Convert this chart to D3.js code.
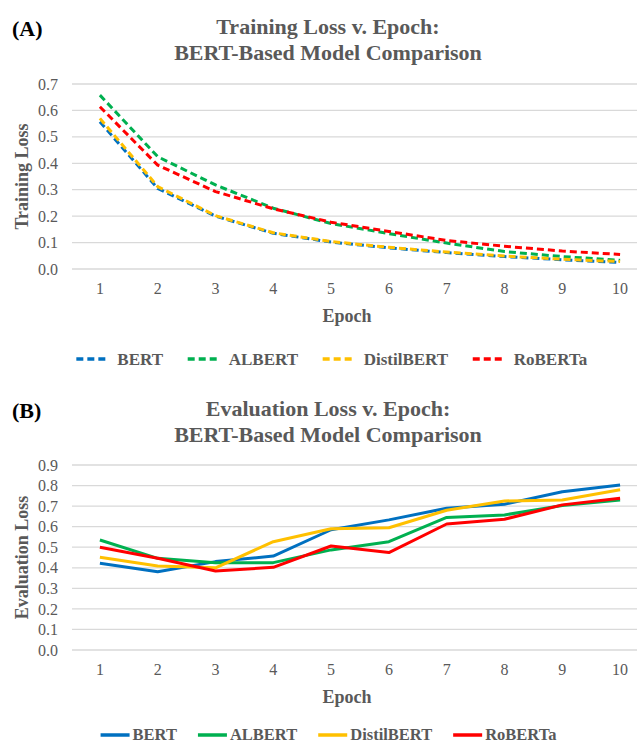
<!DOCTYPE html>
<html>
<head>
<meta charset="utf-8">
<script src="https://cdn.jsdelivr.net/npm/d3@7"></script>
<style>
  body { margin: 0; background: #fff; }
  text { font-family: "Liberation Serif", "Times New Roman", serif; fill: #595959; }
  .panel-tag { fill: #000; font-weight: bold; font-size: 22px; }
  .chart-title { font-weight: bold; font-size: 22px; }
  .axis-label { font-weight: bold; font-size: 18px; }
  .tick-label { font-size: 16px; }
  .legend-label { font-weight: bold; font-size: 17px; }
</style>
</head>
<body>
<div id="chart"></div>
<script>
const EPOCHS = [1, 2, 3, 4, 5, 6, 7, 8, 9, 10];
const MODELS = ["BERT", "ALBERT", "DistilBERT", "RoBERTa"];
const COLORS = ["#0070c0", "#00b050", "#ffc000", "#ff0000"];

// Training loss per epoch
const trainBERT = [0.557, 0.305, 0.200, 0.135, 0.102, 0.080, 0.062, 0.047, 0.035, 0.025];
const trainALBERT = [0.658, 0.425, 0.318, 0.230, 0.172, 0.134, 0.098, 0.066, 0.047, 0.033];
const trainDistilBERT = [0.570, 0.312, 0.202, 0.137, 0.104, 0.082, 0.064, 0.049, 0.037, 0.028];
const trainRoBERTa = [0.614, 0.393, 0.293, 0.228, 0.177, 0.142, 0.108, 0.086, 0.068, 0.055];

// Evaluation loss per epoch
const evalBERT = [0.422, 0.381, 0.430, 0.457, 0.585, 0.633, 0.690, 0.709, 0.770, 0.803];
const evalALBERT = [0.535, 0.446, 0.425, 0.425, 0.487, 0.527, 0.645, 0.657, 0.703, 0.730];
const evalDistilBERT = [0.451, 0.409, 0.400, 0.527, 0.590, 0.595, 0.680, 0.725, 0.730, 0.780];
const evalRoBERTa = [0.500, 0.446, 0.384, 0.402, 0.506, 0.474, 0.613, 0.636, 0.706, 0.738];

const TRAIN_TICKS = [0, 0.1, 0.2, 0.3, 0.4, 0.5, 0.6, 0.7];
const EVAL_TICKS = [0, 0.1, 0.2, 0.3, 0.4, 0.5, 0.6, 0.7, 0.8, 0.9];

const WIDTH = 639;
const HEIGHT = 745;

function LossPanel(opts) {
    const TOP = opts.top;        // pixel y of highest gridline
    const BOTTOM = opts.bottom;  // pixel y of zero line
    const LEFT = 72;
    const RIGHT = 637;

    const xScale = d3.scaleBand()
        .domain(EPOCHS)
        .range([71, 649]);
    const yScale = d3.scaleLinear()
        .domain([0, d3.max(opts.ticks)])
        .range([BOTTOM, TOP]);
    const cx = d => xScale(d) + xScale.bandwidth() / 2;

    this.draw = function(svg) {
        const g = svg.append("g");

        // Panel tag
        g.append("text")
            .attr("class", "panel-tag")
            .attr("x", 12)
            .attr("y", opts.tagY)
            .text(opts.tag);

        // Two-line title
        g.append("text")
            .attr("class", "chart-title")
            .attr("x", 328)
            .attr("y", opts.titleY)
            .attr("text-anchor", "middle")
            .selectAll("tspan")
            .data(opts.title)
            .join("tspan")
            .attr("x", 328)
            .attr("dy", (d, i) => i === 0 ? 0 : 26)
            .text(d => d);

        // Horizontal grid lines
        g.append("g")
            .selectAll("line")
            .data(opts.ticks)
            .join("line")
            .attr("x1", LEFT)
            .attr("x2", RIGHT)
            .attr("y1", d => yScale(d))
            .attr("y2", d => yScale(d))
            .style("stroke", "#d9d9d9")
            .style("stroke-width", 1.3);

        // Y-axis tick labels
        const yAxis = d3.axisLeft(yScale)
            .tickValues(opts.ticks)
            .tickFormat(d3.format(".1f"))
            .tickSize(0)
            .tickPadding(0);
        g.append("g")
            .attr("transform", `translate(58,0)`)
            .call(yAxis)
            .call(a => a.select(".domain").remove())
            .call(a => a.selectAll("text")
                .attr("class", "tick-label")
                .attr("font-family", null)
                .attr("font-size", null)
                .attr("fill", null));

        // X-axis tick labels
        const xAxis = d3.axisBottom(xScale).tickSize(0).tickPadding(0);
        g.append("g")
            .attr("transform", `translate(0,${BOTTOM + 14})`)
            .call(xAxis)
            .call(a => a.select(".domain").remove())
            .call(a => a.selectAll("text")
                .attr("class", "tick-label")
                .attr("font-family", null)
                .attr("font-size", null)
                .attr("fill", null));

        // Axis titles
        g.append("text")
            .attr("class", "axis-label")
            .attr("x", 347)
            .attr("y", BOTTOM + 53)
            .attr("text-anchor", "middle")
            .text("Epoch");
        g.append("text")
            .attr("class", "axis-label")
            .attr("transform", "rotate(-90)")
            .attr("x", -(TOP + BOTTOM) / 2)
            .attr("y", 28)
            .attr("text-anchor", "middle")
            .text(opts.yLabel);

        // Lines
        const line = d3.line()
            .x((d, i) => cx(EPOCHS[i]))
            .y(d => yScale(d));
        opts.series.forEach(function(values, i) {
            g.append("path")
                .datum(values)
                .attr("d", line)
                .style("fill", "none")
                .style("stroke", COLORS[i])
                .style("stroke-width", 3)
                .style("stroke-linejoin", "round")
                .style("stroke-dasharray", opts.dashed ? "7,4" : null);
        });

        // Legend, centred
        const lg = g.append("g");
        const items = lg.selectAll("g")
            .data(MODELS)
            .join("g");
        items.append("line")
            .attr("x1", 0)
            .attr("x2", opts.legendLine)
            .attr("y1", 0)
            .attr("y2", 0)
            .style("stroke", (d, i) => COLORS[i])
            .style("stroke-width", 3.5)
            .style("stroke-dasharray", opts.dashed ? "7,4" : null);
        items.append("text")
            .attr("class", "legend-label")
            .attr("x", opts.legendLine + opts.legendGap)
            .attr("y", opts.legendBase)
            .style("font-size", opts.legendFont + "px")
            .text(d => d);
        let xPos = 0;
        items.each(function() {
            const w = this.getBBox().width;
            d3.select(this).attr("transform", `translate(${xPos},0)`);
            xPos += w + opts.legendSpacing;
        });
        const total = xPos - opts.legendSpacing;
        lg.attr("transform", `translate(${opts.legendCenter - total / 2},${opts.legendY})`);
    };
}

const svg = d3.select("#chart").append("svg")
    .attr("width", WIDTH)
    .attr("height", HEIGHT)
    .attr("viewBox", [0, 0, WIDTH, HEIGHT]);

new LossPanel({
    tag: "(A)", tagY: 36,
    title: ["Training Loss v. Epoch:", "BERT-Based Model Comparison"], titleY: 34,
    top: 84, bottom: 269,
    ticks: TRAIN_TICKS,
    yLabel: "Training Loss",
    series: [trainBERT, trainALBERT, trainDistilBERT, trainRoBERTa],
    dashed: true,
    legendY: 359, legendBase: 6, legendCenter: 332, legendLine: 33, legendGap: 8, legendSpacing: 24, legendFont: 17
}).draw(svg);

new LossPanel({
    tag: "(B)", tagY: 418,
    title: ["Evaluation Loss v. Epoch:", "BERT-Based Model Comparison"], titleY: 416,
    top: 465, bottom: 650,
    ticks: EVAL_TICKS,
    yLabel: "Evaluation Loss",
    series: [evalBERT, evalALBERT, evalDistilBERT, evalRoBERTa],
    dashed: false,
    legendY: 735, legendBase: 5, legendCenter: 328.5, legendLine: 29, legendGap: 3, legendSpacing: 21, legendFont: 16.5
}).draw(svg);
</script>
</body>
</html>
